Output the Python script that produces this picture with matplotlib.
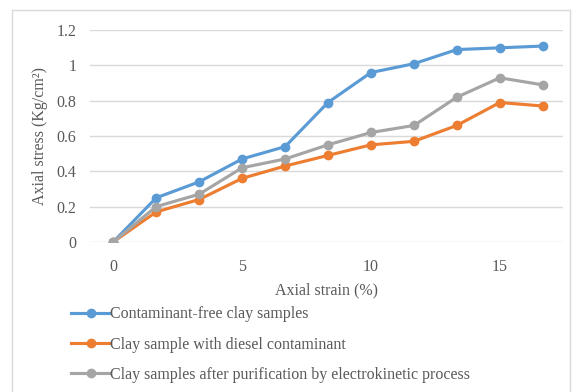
import matplotlib
matplotlib.use("Agg")
import matplotlib.pyplot as plt
from matplotlib.patches import Rectangle

# Axial strain (%) and axial stress (Kg/cm2)
strain = [0, 1.67, 3.33, 5, 6.67, 8.33, 10, 11.67, 13.33, 15, 16.67]
stress_clean = [0, 0.25, 0.34, 0.47, 0.54, 0.79, 0.96, 1.01, 1.09, 1.10, 1.11]
stress_diesel = [0, 0.17, 0.24, 0.36, 0.43, 0.49, 0.55, 0.57, 0.66, 0.79, 0.77]
stress_purified = [0, 0.20, 0.27, 0.42, 0.47, 0.55, 0.62, 0.66, 0.82, 0.93, 0.89]

labels = [
    "Contaminant-free clay samples",
    "Clay sample with diesel contaminant",
    "Clay samples after purification by electrokinetic process",
]
colors = ["#5B9BD5", "#ED7D31", "#A5A5A5"]
text_color = "#595959"

plt.rcParams["font.family"] = ["Liberation Serif", "DejaVu Serif"]

fig = plt.figure(figsize=(5.81, 3.92), dpi=100)
ax = fig.add_axes([0.155, 0.383, 0.814, 0.54])

for ys, c, lab in zip([stress_clean, stress_diesel, stress_purified], colors, labels):
    ax.plot(strain, ys, color=c, linewidth=2.25, marker="o", markersize=6,
            label=lab, zorder=3)

ax.set_xlim(-0.9, 17.45)
ax.set_ylim(0, 1.2)
ax.set_xticks([0, 5, 10, 15])
ax.set_yticks([0, 0.2, 0.4, 0.6, 0.8, 1.0, 1.2])
ax.set_yticklabels(["0", "0.2", "0.4", "0.6", "0.8", "1", "1.2"])
ax.grid(axis="y", color="#d9d9d9", linewidth=1)
ax.set_axisbelow(True)
for s in ax.spines.values():
    s.set_visible(False)
ax.tick_params(length=0, labelsize=11.5, colors=text_color, pad=12)
ax.tick_params(axis="y", pad=10)

ax.set_xlabel("Axial strain (%)", fontsize=11.5, color=text_color, labelpad=6)
ax.set_ylabel("Axial stress (Kg/cm²)", fontsize=11.5, color=text_color, labelpad=6)

fig.legend(loc="upper left", bbox_to_anchor=(0.112, 0.235), frameon=False,
           fontsize=11.5, labelcolor=text_color, handlelength=2.4,
           handletextpad=0.0, labelspacing=0.9, borderaxespad=0)

fig.patches.append(Rectangle((12 / 581, -0.01), (570 - 12) / 581, 1 - 10 / 392 + 0.01,
                             transform=fig.transFigure, fill=False,
                             edgecolor="#d9d9d9", linewidth=1))

fig.savefig("out.png", dpi=100)
